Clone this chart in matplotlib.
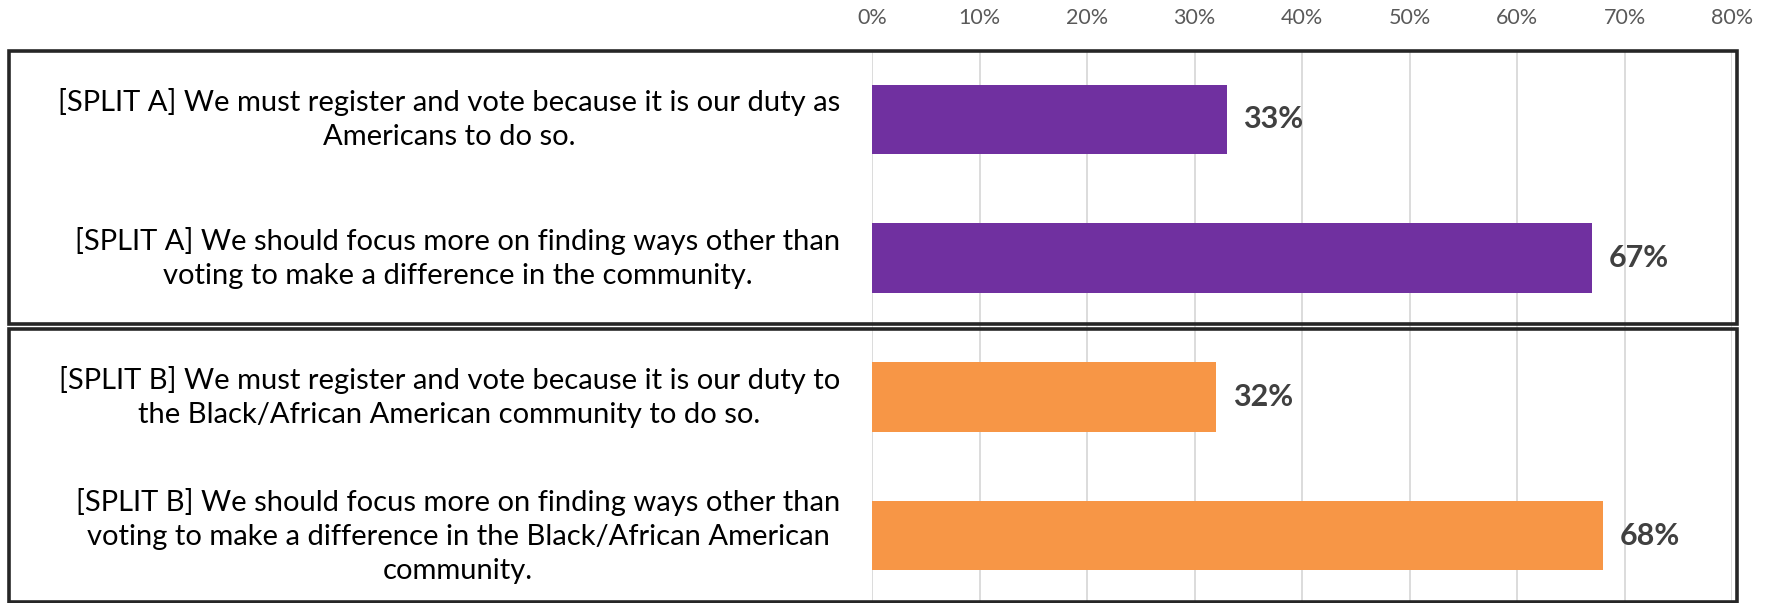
import matplotlib.pyplot as plt
import matplotlib.transforms as mtransforms
from matplotlib.patches import Rectangle
from matplotlib.ticker import PercentFormatter

plt.rcParams['font.family'] = ['Lato', 'DejaVu Sans']

labels = [
    "[SPLIT A] We must register and vote because it is our duty as\nAmericans to do so.",
    "[SPLIT A] We should focus more on finding ways other than\nvoting to make a difference in the community.",
    "[SPLIT B] We must register and vote because it is our duty to\nthe Black/African American community to do so.",
    "[SPLIT B] We should focus more on finding ways other than\nvoting to make a difference in the Black/African American\ncommunity.",
]
values = [33, 67, 32, 68]
colors = ['#7030A0', '#7030A0', '#F79646', '#F79646']
ticks = [0, 10, 20, 30, 40, 50, 60, 70, 80]

W, H = 1769, 603
fig = plt.figure(figsize=(W / 100, H / 100), dpi=100)
ax = fig.add_axes([872 / W, -2 / H, 860 / W, 555 / H])

y = list(range(len(values)))
ax.barh(y, values, height=0.5, color=colors, zorder=3)
ax.set_ylim(3.5, -0.5)
ax.set_xlim(0, 80)
ax.set_xticks(ticks)
ax.xaxis.set_major_formatter(PercentFormatter(decimals=0))
ax.xaxis.tick_top()
ax.tick_params(axis='x', length=0, pad=16, labelsize=15.5, labelcolor='#595959')
ax.set_yticks([])
ax.grid(axis='x', color='#d9d9d9', linewidth=1.3, zorder=0)
for s in ax.spines.values():
    s.set_visible(False)

for yi, v in zip(y, values):
    ax.annotate(f"{v}%", (v, yi), xytext=(12, 0), textcoords='offset points',
                ha='left', va='center', fontsize=22, fontweight='bold', color='#404040')

trans = mtransforms.blended_transform_factory(ax.transAxes, ax.transData)
for yi, lab in zip(y, labels):
    ax.text(-0.037, yi, lab, transform=trans, ha='right', va='center',
            multialignment='center', fontsize=21, color='#000000', linespacing=1.38)

# group boxes
for top, bottom in [(51, 324), (329, 602)]:
    fig.patches.append(Rectangle((9 / W, 1 - bottom / H), (1737 - 9) / W, (bottom - top) / H,
                                 transform=fig.transFigure, fill=False,
                                 edgecolor='#262626', linewidth=2.6, zorder=5))

fig.savefig('out.png', dpi=100)
